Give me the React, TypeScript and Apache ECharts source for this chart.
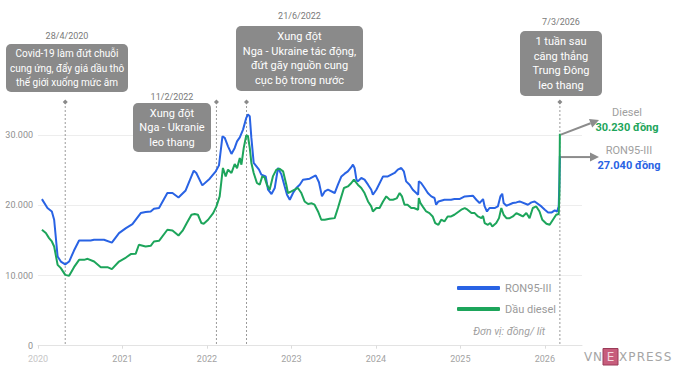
import React, { useEffect, useRef } from 'react';
import * as echarts from 'echarts';

// ---------- DATA ----------
const ronDates = [
  '2020-01-18','2020-02-11','2020-03-01','2020-03-11','2020-03-26','2020-04-09','2020-04-28','2020-05-15','2020-06-05','2020-06-27',
  '2020-08-16','2020-08-31','2020-10-13','2020-11-16','2020-12-17','2021-01-16','2021-02-13','2021-03-21','2021-04-11','2021-05-03',
  '2021-05-17','2021-06-08','2021-07-14','2021-08-05','2021-08-31','2021-10-01','2021-11-05','2021-11-16','2021-12-12','2022-01-13',
  '2022-02-08','2022-02-22','2022-03-09','2022-03-19','2022-04-02','2022-04-17','2022-05-01','2022-05-11','2022-05-23','2022-06-06',
  '2022-06-20','2022-06-27','2022-07-05','2022-07-12','2022-07-22','2022-08-03','2022-08-14','2022-08-24','2022-09-12','2022-09-22',
  '2022-10-07','2022-10-21','2022-11-04','2022-11-19','2022-12-03','2022-12-13','2022-12-25','2023-01-08','2023-01-22','2023-02-06',
  '2023-02-20','2023-03-21','2023-04-16','2023-04-30','2023-05-13','2023-05-25','2023-06-08','2023-07-07','2023-07-21','2023-08-05',
  '2023-08-19','2023-09-02','2023-09-14','2023-09-24','2023-10-01','2023-10-09','2023-10-15','2023-10-30','2023-11-13','2023-11-28',
  '2023-12-12','2023-12-19','2024-01-03','2024-02-01','2024-02-22','2024-03-22','2024-04-05','2024-04-20','2024-05-01','2024-05-11',
  '2024-05-26','2024-06-09','2024-07-02','2024-07-05','2024-07-15','2024-07-30','2024-08-13','2024-08-28','2024-09-11','2024-09-18',
  '2024-09-28','2024-10-24','2024-11-22','2024-12-06','2024-12-28','2025-01-20','2025-02-24','2025-03-11','2025-03-25','2025-04-09',
  '2025-04-16','2025-04-26','2025-05-07','2025-05-29','2025-06-12','2025-06-23','2025-07-01','2025-07-07','2025-07-19','2025-08-16',
  '2025-08-31','2025-09-14','2025-10-20','2025-11-04','2025-11-18','2025-12-17','2026-01-01','2026-01-15','2026-01-31','2026-02-13',
  '2026-02-23','2026-03-02','2026-03-05','2026-03-07'
];
const ronValues = [
  20900,19630,19140,17960,12710,12000,11600,12000,13570,15000,
  15000,15100,15100,14700,16060,16770,17340,18910,19060,19140,
  19530,19630,21770,21770,21140,22140,24960,24630,22860,23810,
  24860,25710,29860,29630,28430,27340,28200,29140,29710,30810,
  32490,32960,32710,29630,26060,25570,25100,24390,24140,22240,
  21630,22490,25340,24390,22710,21530,20810,21770,22490,22960,
  23670,23810,24290,23300,21290,22000,22240,21770,22960,24140,
  24530,24860,25340,25810,25340,23670,23430,23910,23670,22960,
  22240,21530,22240,24140,24140,24630,25100,25340,24860,23430,
  22960,22240,21530,23430,23200,22490,21770,21290,21060,20100,
  20570,20810,20810,20910,20910,21290,21390,20810,20340,20910,
  19860,19140,19630,19630,19860,21290,21670,20340,19960,20340,
  20430,20570,20100,20430,20570,19860,19390,19000,19000,19290,
  19140,19860,23500,27040
];

const dieselDates = [
  '2020-01-18','2020-02-04','2020-02-18','2020-03-01','2020-03-11','2020-03-26','2020-04-09','2020-04-28','2020-05-15','2020-06-05',
  '2020-06-27','2020-07-19','2020-08-03','2020-08-31','2020-09-29','2020-10-28','2020-11-16','2020-12-17','2021-01-16','2021-02-06',
  '2021-02-27','2021-03-13','2021-04-11','2021-05-03','2021-05-17','2021-06-08','2021-07-14','2021-08-05','2021-08-31','2021-09-18',
  '2021-10-06','2021-10-26','2021-11-09','2021-11-23','2021-12-08','2021-12-18','2022-01-06','2022-01-28','2022-02-11','2022-02-25',
  '2022-03-11','2022-03-23','2022-04-02','2022-04-17','2022-05-01','2022-05-11','2022-05-23','2022-05-30','2022-06-09','2022-06-20',
  '2022-06-27','2022-07-05','2022-07-12','2022-07-22','2022-08-05','2022-08-17','2022-08-28','2022-09-07','2022-09-17','2022-09-29',
  '2022-10-13','2022-10-28','2022-11-11','2022-11-26','2022-12-10','2022-12-17','2023-01-01','2023-01-15','2023-01-29','2023-02-13',
  '2023-02-27','2023-03-14','2023-03-30','2023-04-11','2023-04-26','2023-05-10','2023-05-25','2023-06-15','2023-07-07','2023-07-21',
  '2023-08-05','2023-08-16','2023-09-02','2023-09-17','2023-09-28','2023-10-15','2023-10-30','2023-11-13','2023-11-28','2023-12-12',
  '2023-12-19','2024-01-03','2024-01-17','2024-02-01','2024-02-15','2024-03-01','2024-03-15','2024-03-31','2024-04-13','2024-04-23',
  '2024-05-04','2024-05-17','2024-06-02','2024-06-14','2024-07-02','2024-07-05','2024-07-12','2024-07-23','2024-08-06','2024-08-20',
  '2024-09-03','2024-09-14','2024-09-28','2024-10-10','2024-10-24','2024-11-07','2024-11-22','2024-12-06','2025-01-05','2025-01-20',
  '2025-02-01','2025-02-18','2025-03-04','2025-03-18','2025-04-02','2025-04-09','2025-04-16','2025-04-30','2025-05-10','2025-05-19',
  '2025-06-05','2025-06-17','2025-06-27','2025-07-07','2025-07-19','2025-08-02','2025-08-16','2025-08-31','2025-09-14','2025-09-28',
  '2025-10-13','2025-10-27','2025-11-10','2025-11-25','2025-12-09','2025-12-21','2026-01-08','2026-01-22','2026-02-05','2026-02-19',
  '2026-03-02','2026-03-05','2026-03-07'
];
const dieselValues = [
  16530,16060,15340,14860,14140,11530,11060,10100,9960,11200,
  12240,12240,12390,12000,11200,11200,10910,12000,12570,13060,
  13100,14390,14140,14240,14860,14960,16530,16430,15710,16400,
  17500,18670,18770,18670,17490,17390,17960,18910,19860,21290,
  25340,24140,25100,24630,25910,25300,26770,25810,28200,30000,
  29900,28200,26060,24630,23200,22960,24140,24000,22960,22240,
  24140,25100,25240,24860,22960,21770,22000,22240,22490,21770,
  20570,20200,20300,20100,19140,17960,17960,18100,18190,19630,
  21290,22490,22710,23200,23670,22960,22490,21770,20570,19860,
  19140,19630,19630,20570,21290,20810,20810,21000,21770,21290,
  20100,20100,19630,19630,19390,21060,20340,19800,19140,18910,
  18430,17490,17240,17960,17710,18430,18430,18670,19390,19630,
  19400,18910,18910,18430,18190,18500,17490,17240,17490,17000,
  17490,18190,19630,18670,18190,18190,18430,18900,18670,18430,
  18910,18190,19630,19860,19140,17960,17390,17240,17960,18670,
  18770,21500,30230
];

const xTickYears = [2020, 2021, 2022, 2023, 2024, 2025, 2026];
const yTicks = [0, 10000, 20000, 30000];

const annotationDates = ['2020-04-28', '2022-02-11', '2022-06-21', '2026-03-07'];
const annotationDateLabels = ['28/4/2020', '11/2/2022', '21/6/2022', '7/3/2026'];
const annotationTexts = [
  'Covid-19 làm đứt chuỗi\ncung ứng, đẩy giá dầu thô\nthế giới xuống mức âm',
  'Xung đột\nNga - Ukranie\nleo thang',
  'Xung đột\nNga - Ukraine tác động,\nđứt gãy nguồn cung\ncục bộ trong nước',
  '1 tuần sau\ncăng thẳng\nTrung Đông\nleo thang'
];
const seriesNames = ['RON95-III', 'Dầu diesel'];
const endLabelNames = ['RON95-III', 'Diesel'];
const unitNote = 'Đơn vị: đồng/ lít';

// ---------- LAYOUT / STYLE ----------
const BLUE = '#2963e4';
const GREEN = '#1da55b';
const BOX = '#8a8a8a';
const FONT = 'Roboto, "Noto Sans", sans-serif';
// box layout for annotations: [left, top, width, height, dateLabelY, fontSize]
const boxLayout = [
  [6, 44, 122, 48, 36, 10],
  [133, 103, 78, 49, 97, 11],
  [236, 26, 127, 65, 16, 11],
  [520, 31, 82, 65, 22, 11]
];

function toYear(d: string): number {
  const [y, m, day] = d.split('-').map(Number);
  const s = Date.UTC(y, 0, 1);
  const e = Date.UTC(y + 1, 0, 1);
  return y + (Date.UTC(y, m - 1, day) - s) / (e - s);
}
function fmt(v: number): string {
  return String(v).replace(/\B(?=(\d{3})+(?!\d))/g, '.');
}

function arrow(x1: number, y1: number, x2: number, y2: number, color: string) {
  const ang = Math.atan2(y2 - y1, x2 - x1);
  const L = 9, W = 4.5;
  const bx = x2 - L * Math.cos(ang), by = y2 - L * Math.sin(ang);
  const px = -Math.sin(ang) * W, py = Math.cos(ang) * W;
  return [
    { type: 'line', shape: { x1, y1, x2: bx, y2: by }, style: { stroke: color, lineWidth: 2 }, z: 20 },
    { type: 'polygon', shape: { points: [[x2, y2], [bx + px, by + py], [bx - px, by - py]] }, style: { fill: color }, z: 20 }
  ];
}

export default function App() {
  const ref = useRef<HTMLDivElement>(null);
  useEffect(() => {
    if (!ref.current) return;
    const chart = echarts.init(ref.current, null, { renderer: 'svg' });
    const ronData = ronDates.map((d, i) => [toYear(d), ronValues[i]]);
    const dieselData = dieselDates.map((d, i) => [toYear(d), dieselValues[i]]);

    chart.setOption({
      animation: false,
      backgroundColor: '#ffffff',
      grid: { left: 38, right: 98, top: 135.3, bottom: 33.3, containLabel: false },
      xAxis: {
        type: 'value',
        min: 2020,
        max: 2026.44,
        axisLine: { show: true, lineStyle: { color: '#e3e3e3', width: 1 } },
        axisTick: { show: true, customValues: xTickYears, length: 3, lineStyle: { color: '#dcdcdc' } },
        splitLine: { show: false },
        axisLabel: {
          customValues: xTickYears,
          color: '#a3a3a3',
          fontSize: 9,
          fontFamily: FONT,
          margin: 9,
          formatter: (v: number) => (v === xTickYears[0] ? `{a|${v}}` : `${v}`),
          rich: { a: { color: '#c6c6c6', fontSize: 9, fontFamily: FONT } }
        }
      },
      yAxis: {
        type: 'value',
        min: yTicks[0],
        max: yTicks[yTicks.length - 1],
        interval: yTicks[1] - yTicks[0],
        axisLine: { show: false },
        axisTick: { show: false },
        splitLine: { show: true, lineStyle: { color: '#ededed', width: 1 } },
        axisLabel: { color: '#8f8f8f', fontSize: 9, fontFamily: FONT, margin: 5, formatter: (v: number) => fmt(v) }
      },
      legend: {
        orient: 'vertical',
        left: 452,
        top: 276,
        icon: 'roundRect',
        itemWidth: 43,
        itemHeight: 4,
        itemGap: 7,
        textStyle: { color: '#9a9a9a', fontSize: 11, fontFamily: FONT, lineHeight: 14 },
        data: seriesNames
      },
      series: [
        {
          name: seriesNames[0], type: 'line', data: ronData, showSymbol: false, clip: false,
          lineStyle: { color: BLUE, width: 2 }, itemStyle: { color: BLUE }, z: 3
        },
        {
          name: seriesNames[1], type: 'line', data: dieselData, showSymbol: false, clip: false,
          lineStyle: { color: GREEN, width: 2 }, itemStyle: { color: GREEN }, z: 4
        }
      ]
    });

    const toPx = (t: number, v: number) => chart.convertToPixel({ xAxisIndex: 0, yAxisIndex: 0 }, [t, v]) as number[];
    const y0 = toPx(2020, 0)[1];
    const g: any[] = [];
    annotationDates.forEach((d, i) => {
      const x = toPx(toYear(d), 0)[0];
      const [bl, bt, bw, bh, dy, fs] = boxLayout[i];
      const markerY = 102;
      g.push({ type: 'line', shape: { x1: x, y1: markerY, x2: x, y2: y0 }, style: { stroke: '#9a9a9a', lineWidth: 1, lineDash: [2, 2] }, z: 2 });
      g.push({ type: 'polygon', shape: { points: [[x, markerY - 2.5], [x + 2.5, markerY], [x, markerY + 2.5], [x - 2.5, markerY]] }, style: { fill: '#8a8a8a' }, z: 2 });
      g.push({ type: 'rect', shape: { x: bl, y: bt, width: bw, height: bh, r: 5 }, style: { fill: BOX }, z: 10 });
      g.push({
        type: 'text', x: bl + bw / 2, y: bt + bh / 2, z: 11,
        style: { text: annotationTexts[i], fill: '#ffffff', fontSize: fs, fontFamily: FONT, lineHeight: 14.5, align: 'center', verticalAlign: 'middle' }
      });
      g.push({
        type: 'text', x: bl + bw / 2, y: dy, z: 11,
        style: { text: annotationDateLabels[i], fill: '#7a7a7a', fontSize: 9, fontFamily: FONT, align: 'center', verticalAlign: 'middle' }
      });
    });

    // end arrows & labels
    const lastRon = ronData[ronData.length - 1];
    const lastDiesel = dieselData[dieselData.length - 1];
    const pr = toPx(lastRon[0], lastRon[1]);
    const pd = toPx(lastDiesel[0], lastDiesel[1]);
    g.push(...arrow(pd[0] + 1, pd[1] + 1, 599, 120, '#8c8c8c'));
    g.push(...arrow(pr[0] + 1, pr[1] + 1, 599, pr[1] + 1, '#8c8c8c'));
    g.push({ type: 'text', x: 627, y: 112, style: { text: endLabelNames[1], fill: '#a0a0a0', fontSize: 11, fontFamily: FONT, align: 'center', verticalAlign: 'middle' } });
    g.push({ type: 'text', x: 627, y: 127, style: { text: `${fmt(lastDiesel[1])} đồng`, fill: GREEN, fontSize: 11, fontWeight: 'bold', fontFamily: FONT, align: 'center', verticalAlign: 'middle' } });
    g.push({ type: 'text', x: 629, y: 150, style: { text: endLabelNames[0], fill: '#a0a0a0', fontSize: 11, fontFamily: FONT, align: 'center', verticalAlign: 'middle' } });
    g.push({ type: 'text', x: 629, y: 165, style: { text: `${fmt(lastRon[1])} đồng`, fill: BLUE, fontSize: 11, fontWeight: 'bold', fontFamily: FONT, align: 'center', verticalAlign: 'middle' } });

    // unit note
    g.push({ type: 'text', x: 545, y: 331, style: { text: unitNote, fill: '#a0a0a0', fontSize: 10.5, fontStyle: 'italic', fontFamily: FONT, align: 'right', verticalAlign: 'middle' } });

    // logo
    const logoGray = '#a5a5a5';
    const LOGO_FONT = '"DejaVu Sans", sans-serif';
    [['V', 588], ['N', 597.5]].forEach(([c, x]) => g.push({ type: 'text', x, y: 357, style: { text: c, fill: logoGray, fontSize: 12, fontFamily: LOGO_FONT, align: 'center', verticalAlign: 'middle' } }));
    g.push({ type: 'rect', shape: { x: 603, y: 348.5, width: 15, height: 16.5 }, style: { fill: '#c75d7c', stroke: '#9a3b58', lineWidth: 1 } });
    g.push({ type: 'text', x: 610.5, y: 357, style: { text: 'E', fill: '#f3d6df', fontSize: 12, fontFamily: LOGO_FONT, align: 'center', verticalAlign: 'middle' } });
    'XPRESS'.split('').forEach((c, i) => g.push({ type: 'text', x: 623 + i * 8.9, y: 357, style: { text: c, fill: logoGray, fontSize: 12, fontFamily: LOGO_FONT, align: 'center', verticalAlign: 'middle' } }));

    chart.setOption({ graphic: g });
    return () => chart.dispose();
  }, []);
  return <div ref={ref} style={{ position: 'fixed', left: 0, top: 0, width: 680, height: 379, background: '#fff' }} />;
}
